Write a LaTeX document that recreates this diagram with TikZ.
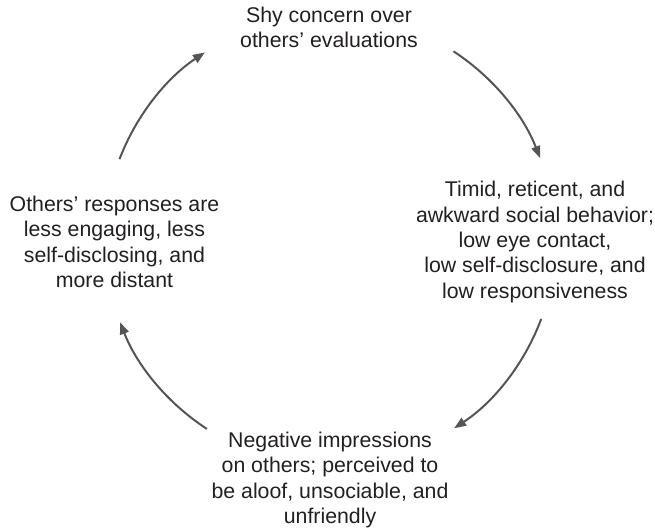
\documentclass[tikz,border=0pt]{standalone}
\usepackage{fontspec}
\setmainfont{Liberation Sans}
\usetikzlibrary{arrows.meta}
\definecolor{arrowgray}{HTML}{555555}
\definecolor{textblack}{HTML}{231F20}
\begin{document}
\begin{tikzpicture}[x=1pt,y=1pt,
  txt/.style={align=center,inner sep=0pt,text=textblack,font=\fontsize{21.3}{25.3}\selectfont},
  cyc/.style={draw=arrowgray,line width=2pt,-{Triangle[length=12pt,width=9pt]}}]
\useasboundingbox (0,0) rectangle (655,529);
\coordinate (c) at (330,289);
\node[txt] (top) at (329,501.5) {Shy concern over\\others’ evaluations};
\node[txt] (right) at (535,287) {Timid, reticent, and\\awkward social behavior;\\low eye contact,\\low self-disclosure, and\\low responsiveness};
\node[txt] (bottom) at (330,49) {Negative impressions\\on others; perceived to\\be aloof, unsociable, and\\unfriendly};
\node[txt] (left) at (114.5,287) {Others’ responses are\\less engaging, less\\self-disclosing, and\\more distant};
\draw[cyc] (c) ++(159:225.5) arc[start angle=159,end angle=123.7,radius=225.5];
\draw[cyc] (c) ++(56.8:225.5) arc[start angle=56.8,end angle=21.3,radius=225.5];
\draw[cyc] (c) ++(-20.5:225.5) arc[start angle=-20.5,end angle=-56.6,radius=225.5];
\draw[cyc] (c) ++(-123.1:225.5) arc[start angle=-123.1,end angle=-158.6,radius=225.5];
\end{tikzpicture}
\end{document}
